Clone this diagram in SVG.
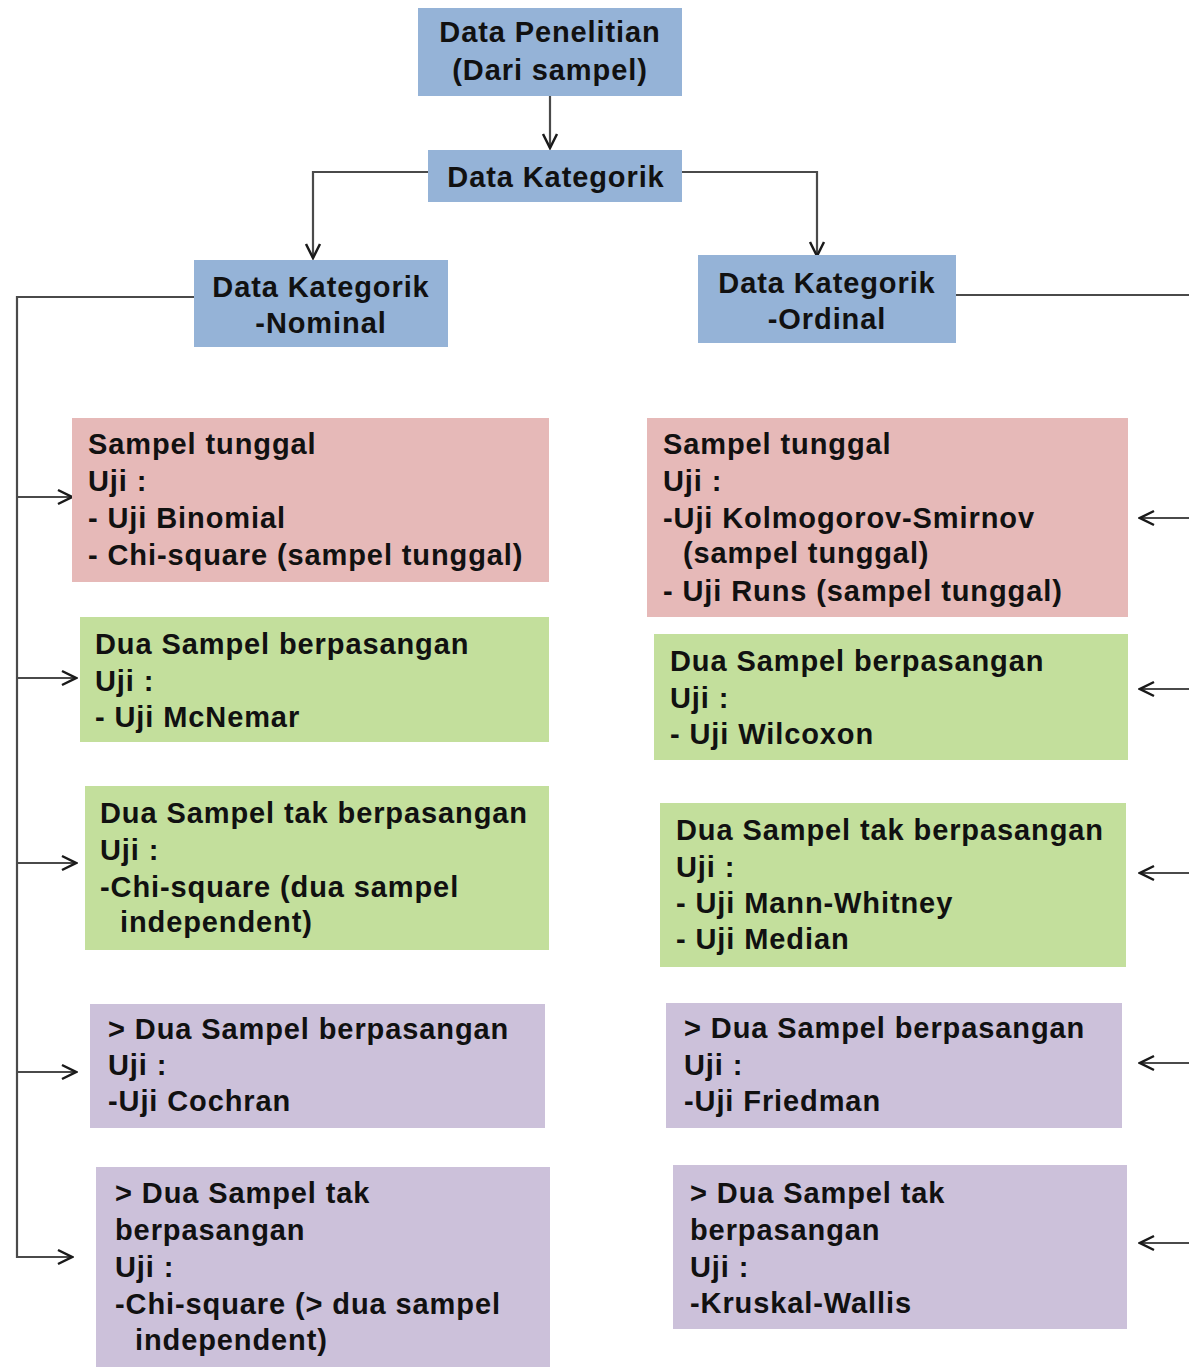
<svg xmlns="http://www.w3.org/2000/svg" width="1189" height="1367" viewBox="0 0 1189 1367">
<defs>
<marker id="arr" viewBox="0 0 20 20" refX="18" refY="10" markerWidth="20" markerHeight="20" markerUnits="userSpaceOnUse" orient="auto">
<path d="M4,3 L18,10 L4,17" fill="none" stroke="#1a1a1a" stroke-width="2.5"/>
</marker>
</defs>
<style>
.blue{fill:#95b3d7}
.pink{fill:#e6b9b8}
.green{fill:#c3df9c}
.purple{fill:#ccc1da}
text{font-family:"Liberation Sans",Arial,sans-serif;font-weight:bold;fill:#111;font-size:29px;letter-spacing:0.9px}
.c{text-anchor:middle}
.con{fill:none;stroke:#4a4a4a;stroke-width:2.2}
</style>
<rect width="1189" height="1367" fill="#ffffff"/>
<g id="connectors">
<path class="con" d="M550,96 V148" marker-end="url(#arr)"/>
<path class="con" d="M428,172 H313 V258" marker-end="url(#arr)"/>
<path class="con" d="M682,172 H817 V256" marker-end="url(#arr)"/>
<path class="con" d="M194,297 H17 V1257 H72" marker-end="url(#arr)"/>
<path class="con" d="M17,497 H72" marker-end="url(#arr)"/>
<path class="con" d="M17,678 H76" marker-end="url(#arr)"/>
<path class="con" d="M17,863 H76" marker-end="url(#arr)"/>
<path class="con" d="M17,1072 H76" marker-end="url(#arr)"/>
<path class="con" d="M956,295 H1189"/>
<path class="con" d="M1189,518 H1140" marker-end="url(#arr)"/>
<path class="con" d="M1189,689 H1140" marker-end="url(#arr)"/>
<path class="con" d="M1189,873 H1140" marker-end="url(#arr)"/>
<path class="con" d="M1189,1063 H1140" marker-end="url(#arr)"/>
<path class="con" d="M1189,1243 H1140" marker-end="url(#arr)"/>
</g>
<g id="n-penelitian">
<rect class="blue" x="418" y="8" width="264" height="88"/>
<text class="c" x="550" y="42">Data Penelitian</text>
<text class="c" x="550" y="80">(Dari sampel)</text>
</g>
<g id="n-kategorik">
<rect class="blue" x="428" y="150" width="254" height="52"/>
<text class="c" x="556" y="187">Data Kategorik</text>
</g>
<g id="n-nominal">
<rect class="blue" x="194" y="260" width="254" height="87"/>
<text class="c" x="321" y="297">Data Kategorik</text>
<text class="c" x="321" y="333">-Nominal</text>
</g>
<g id="n-ordinal">
<rect class="blue" x="698" y="255" width="258" height="88"/>
<text class="c" x="827" y="293">Data Kategorik</text>
<text class="c" x="827" y="329">-Ordinal</text>
</g>
<g id="n-nom-tunggal">
<rect class="pink" x="72" y="418" width="477" height="164"/>
<text x="88" y="454">Sampel tunggal</text>
<text x="88" y="491">Uji :</text>
<text x="88" y="528">- Uji Binomial</text>
<text x="88" y="565">- Chi-square (sampel tunggal)</text>
</g>
<g id="n-nom-dua-pas">
<rect class="green" x="80" y="617" width="469" height="125"/>
<text x="95" y="654">Dua Sampel berpasangan</text>
<text x="95" y="691">Uji :</text>
<text x="95" y="727">- Uji McNemar</text>
</g>
<g id="n-nom-dua-tak">
<rect class="green" x="85" y="786" width="464" height="164"/>
<text x="100" y="823">Dua Sampel tak berpasangan</text>
<text x="100" y="860">Uji :</text>
<text x="100" y="897">-Chi-square (dua sampel</text>
<text x="120" y="932">independent)</text>
</g>
<g id="n-nom-lebih-pas">
<rect class="purple" x="90" y="1004" width="455" height="124"/>
<text x="108" y="1039">&gt; Dua Sampel berpasangan</text>
<text x="108" y="1075">Uji :</text>
<text x="108" y="1111">-Uji Cochran</text>
</g>
<g id="n-nom-lebih-tak">
<rect class="purple" x="96" y="1167" width="454" height="200"/>
<text x="115" y="1203">&gt; Dua Sampel tak</text>
<text x="115" y="1240">berpasangan</text>
<text x="115" y="1277">Uji :</text>
<text x="115" y="1314">-Chi-square (&gt; dua sampel</text>
<text x="135" y="1350">independent)</text>
</g>
<g id="n-ord-tunggal">
<rect class="pink" x="647" y="418" width="481" height="199"/>
<text x="663" y="454">Sampel tunggal</text>
<text x="663" y="491">Uji :</text>
<text x="663" y="528">-Uji Kolmogorov-Smirnov</text>
<text x="683" y="563">(sampel tunggal)</text>
<text x="663" y="601">- Uji Runs (sampel tunggal)</text>
</g>
<g id="n-ord-dua-pas">
<rect class="green" x="654" y="634" width="474" height="126"/>
<text x="670" y="671">Dua Sampel berpasangan</text>
<text x="670" y="708">Uji :</text>
<text x="670" y="744">- Uji Wilcoxon</text>
</g>
<g id="n-ord-dua-tak">
<rect class="green" x="660" y="803" width="466" height="164"/>
<text x="676" y="840">Dua Sampel tak berpasangan</text>
<text x="676" y="877">Uji :</text>
<text x="676" y="913">- Uji Mann-Whitney</text>
<text x="676" y="949">- Uji Median</text>
</g>
<g id="n-ord-lebih-pas">
<rect class="purple" x="666" y="1003" width="456" height="125"/>
<text x="684" y="1038">&gt; Dua Sampel berpasangan</text>
<text x="684" y="1075">Uji :</text>
<text x="684" y="1111">-Uji Friedman</text>
</g>
<g id="n-ord-lebih-tak">
<rect class="purple" x="673" y="1165" width="454" height="164"/>
<text x="690" y="1203">&gt; Dua Sampel tak</text>
<text x="690" y="1240">berpasangan</text>
<text x="690" y="1277">Uji :</text>
<text x="690" y="1313">-Kruskal-Wallis</text>
</g>
</svg>
